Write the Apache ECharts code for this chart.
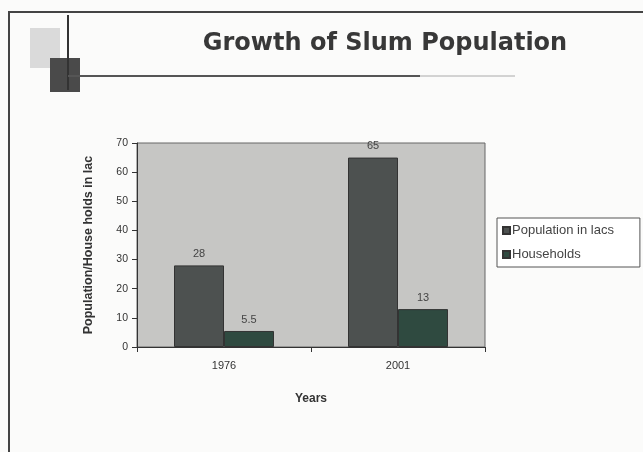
<!DOCTYPE html>
<html><head><meta charset="utf-8">
<script src="https://cdn.jsdelivr.net/npm/echarts@6/dist/echarts.min.js"></script>
<style>html,body{margin:0;padding:0;background:#fff}#c{width:643px;height:452px}</style>
</head><body><div id="c"></div>
<script>
const categories = ['1976', '2001'];
const populationLacs = [28, 65];
const households = [5.5, 13];
const populationLabels = ['28', '65'];
const householdLabels = ['5.5', '13'];
const yTicks = [0, 10, 20, 30, 40, 50, 60, 70];

const chart = echarts.init(document.getElementById('c'), null, {renderer: 'canvas'});
chart.setOption({
  animation: false,
  backgroundColor: '#fbfbfa',
  title: {
    text: 'Growth of Slum Population',
    left: 380, top: 27, textAlign: 'center',
    textStyle: {fontFamily: 'DejaVu Sans', fontSize: 24, fontWeight: 'bold', color: '#383838'}
  },
  graphic: [
    {type: 'rect', shape: {x: 9, y: 12, width: 640, height: 445}, style: {fill: 'none', stroke: '#444', lineWidth: 2}},
    {type: 'rect', shape: {x: 30, y: 28, width: 30, height: 40}, style: {fill: '#dadada'}},
    {type: 'rect', shape: {x: 50, y: 58, width: 30, height: 34}, style: {fill: '#4a4a4a'}},
    {type: 'line', shape: {x1: 68, y1: 15, x2: 68, y2: 90}, style: {stroke: '#333', lineWidth: 2}},
    {type: 'line', shape: {x1: 68, y1: 76, x2: 420, y2: 76}, style: {stroke: '#555', lineWidth: 2}},
    {type: 'line', shape: {x1: 420, y1: 76, x2: 515, y2: 76}, style: {stroke: '#aaa', lineWidth: 1}}
  ],
  legend: {
    orient: 'vertical', left: 497, top: 218,
    icon: 'rect', itemWidth: 7, itemHeight: 7, itemGap: 11,
    padding: [6, 26, 6, 5],
    borderColor: '#555', borderWidth: 1, backgroundColor: '#fff',
    textStyle: {fontFamily: 'Liberation Sans', fontSize: 13, color: '#444', padding: [0, 0, 0, -3]},
    data: ['Population in lacs', 'Households']
  },
  grid: {left: 137, right: 158, top: 143, bottom: 105, show: true, backgroundColor: '#c6c6c4', borderColor: '#666', borderWidth: 1},
  xAxis: {
    type: 'category', data: categories,
    name: 'Years', nameLocation: 'middle', nameGap: 46,
    nameTextStyle: {fontFamily: 'Liberation Sans', fontSize: 12, fontWeight: 'bold', color: '#333'},
    axisLine: {lineStyle: {color: '#333'}},
    axisTick: {show: true, alignWithLabel: false, lineStyle: {color: '#333'}},
    axisLabel: {fontFamily: 'Liberation Sans', fontSize: 11, color: '#333', margin: 13}
  },
  yAxis: {
    type: 'value', min: 0, max: 70, interval: 10,
    name: 'Population/House holds in lac', nameLocation: 'middle', nameGap: 42,
    nameTextStyle: {fontFamily: 'Liberation Sans', fontSize: 12.5, fontWeight: 'bold', color: '#333'},
    axisLine: {show: true, lineStyle: {color: '#333'}},
    axisTick: {show: true, lineStyle: {color: '#333'}},
    splitLine: {show: false},
    axisLabel: {fontFamily: 'Liberation Sans', fontSize: 10.5, color: '#333', margin: 9,
      formatter: v => yTicks.includes(v) ? String(v) : ''}
  },
  series: [
    {
      name: 'Population in lacs', type: 'bar', data: populationLacs,
      barWidth: 50, barGap: '0%',
      itemStyle: {color: '#4d5150', borderColor: '#333', borderWidth: 1},
      label: {show: true, position: 'top', distance: 6, fontFamily: 'Liberation Sans', fontSize: 11, color: '#444',
        formatter: p => populationLabels[p.dataIndex]}
    },
    {
      name: 'Households', type: 'bar', data: households,
      barWidth: 50,
      itemStyle: {color: '#2f4a40', borderColor: '#333', borderWidth: 1},
      label: {show: true, position: 'top', distance: 6, fontFamily: 'Liberation Sans', fontSize: 11, color: '#444',
        formatter: p => householdLabels[p.dataIndex]}
    }
  ]
});
</script></body></html>
